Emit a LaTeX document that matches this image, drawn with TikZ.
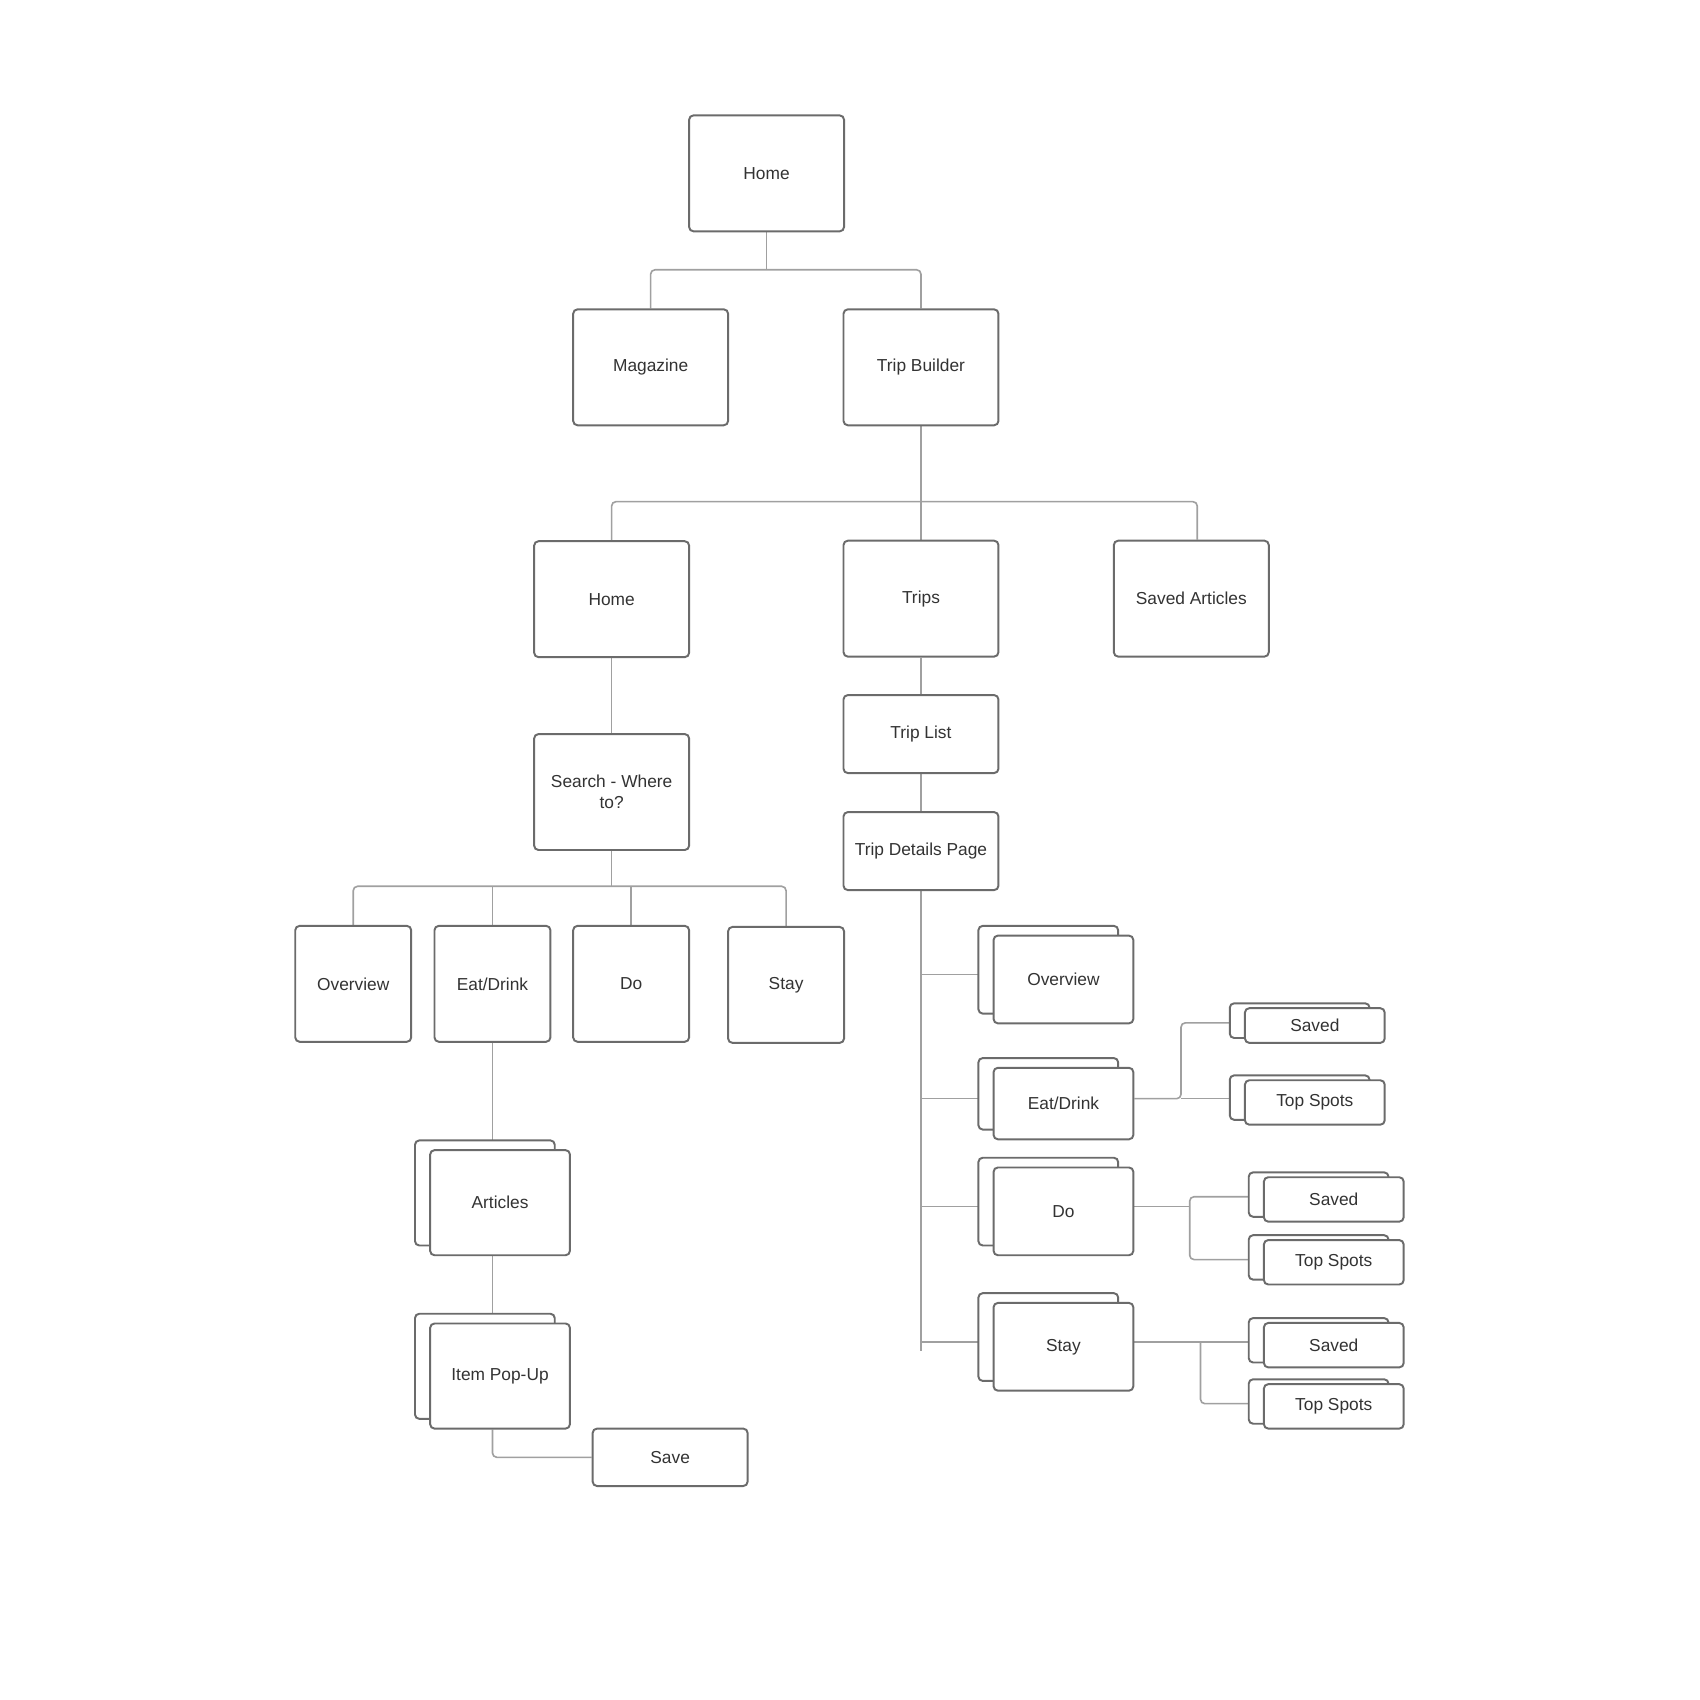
\documentclass[tikz,border=0pt]{standalone}
\usepackage{fontspec}
\setmainfont{Liberation Sans}
\usetikzlibrary{shadows}
\usetikzlibrary{backgrounds}
\usepackage{xcolor}
\definecolor{boxline}{HTML}{6B6B6B}
\definecolor{connline}{HTML}{A0A0A0}
\definecolor{labeltext}{HTML}{333333}

\begin{document}
\begin{tikzpicture}[
		x=1pt, y=-1pt,
		% Style definitions for sitemap boxes
		box/.style={draw=boxline, line width=1.8pt, rounded corners=4pt, fill=white, text=labeltext, font=\fontsize{16}{19}\selectfont, align=center, inner sep=0pt},
		page/.style={box, minimum width=143pt, minimum height=107pt},
		tab/.style={box, minimum width=107pt, minimum height=107pt},
		bar/.style={box, minimum width=143pt, minimum height=72pt},
		stack/.style={box, minimum width=129pt, copy shadow={shadow xshift=-14pt, shadow yshift=9pt, draw=boxline, fill=white}},
		substack/.style={box, minimum width=129pt, minimum height=41pt, copy shadow={shadow xshift=-14pt, shadow yshift=4.5pt, draw=boxline, fill=white}},
		conn/.style={draw=connline, line width=1.5pt, rounded corners=4pt},
		]
		\useasboundingbox (0,0) rectangle (1569,1569);

		% === Top levels ===
		\node[page] (home) at (707.5,160) {Home};
		\node[page] (mag) at (600.5,339) {Magazine};
		\node[page] (tb) at (850,339) {Trip Builder};

		% === Trip Builder sections ===
		\node[page] (thome) at (564.5,553) {Home};
		\node[page] (trips) at (850,552.5) {Trips};
		\node[page] (sart) at (1099.5,552.5) {Saved Articles};
		\node[bar] (tlist) at (850,677.5) {Trip List};
		\node[bar] (tdp) at (850,785.5) {Trip Details Page};

		% === Search branch ===
		\node[page] (search) at (564.5,731) {Search - Where\\to?};
		\node[tab] (sov) at (326,908) {Overview};
		\node[tab] (sed) at (454.5,908) {Eat/Drink};
		\node[tab] (sdo) at (582.5,908) {Do};
		\node[tab] (sstay) at (725.5,909) {Stay};
		\node[stack, minimum height=97pt] (art) at (461.5,1110) {Articles};
		\node[stack, minimum height=97pt] (pop) at (461.5,1270) {Item Pop-Up};
		\node[box, minimum width=143pt, minimum height=53pt] (save) at (618.5,1345) {Save};

		% === Trip details pages ===
		\node[stack, minimum height=81pt] (dov) at (981.5,904) {Overview};
		\node[stack, minimum height=66pt] (ded) at (981.5,1018.5) {Eat/Drink};
		\node[stack, minimum height=81pt] (ddo) at (981.5,1118) {Do};
		\node[stack, minimum height=81pt] (dstay) at (981.5,1243) {Stay};

		% === Saved / Top Spots ===
		\node[substack, minimum height=32pt] (edsv) at (1213.5,946.5) {Saved};
		\node[substack] (edtop) at (1213.5,1017.5) {Top Spots};
		\node[substack] (dosv) at (1231,1107) {Saved};
		\node[substack] (dotop) at (1231,1165) {Top Spots};
		\node[substack] (stsv) at (1231,1241.5) {Saved};
		\node[substack] (sttop) at (1231,1298) {Top Spots};

		% === Connectors (behind the boxes) ===
		\begin{scope}[on background layer]
			\coordinate (fhome) at (707.5,249);
			\draw[conn] (home) -- (fhome);
			\draw[conn] (mag.north) |- (fhome) -| (tb.north);

			\coordinate (ftb) at (850,463);
			\draw[conn] (tb) -- (trips);
			\draw[conn] (thome.north) |- (ftb) -| ([xshift=5.5pt]sart.north);
			\draw[conn] (thome) -- (search);
			\draw[conn] (trips) -- (tlist);
			\draw[conn] (tlist) -- (tdp);

			\coordinate (fsearch) at (564.5,818);
			\draw[conn] (search) -- (fsearch);
			\draw[conn] (sov.north) |- (fsearch) -| (sstay.north);
			\draw[conn] (sed.north) -- (sed.north |- fsearch);
			\draw[conn] (sdo.north) -- (sdo.north |- fsearch);
			\draw[conn] (sed.south) -- (sed.south |- art.north);
			\draw[conn] (sed.south |- art.south) -- (sed.south |- pop.north);
			\draw[conn] (sed.south |- pop.south) |- (save.west);

			\coordinate (ftdp) at (850,1247);
			\draw[conn] (tdp) -- (ftdp);
			\foreach \n in {dov,ded,ddo,dstay}
				\draw[conn] ([yshift=4.5pt]\n.west -| tdp) -- ([yshift=4.5pt]\n.west);

			\coordinate (fed) at (1090,1014);
			\draw[conn] ([yshift=4.5pt]ded.east) -- (fed) |- ([xshift=-14pt,yshift=2.5pt]edsv.west);
			\draw[conn] (fed) -- (fed -| edtop.west);

			\coordinate (fdo) at (1098,1113.5);
			\draw[conn] ([yshift=4.5pt]ddo.east) -- (fdo);
			\draw[conn] ([yshift=2.5pt]dosv.west) -| (fdo) |- ([yshift=2.5pt]dotop.west);

			\coordinate (fst) at (1108,1238.5);
			\draw[conn] ([yshift=4.5pt]dstay.east) -- ([yshift=4.5pt]dstay.east -| stsv.west);
			\draw[conn] (fst) |- ([yshift=2.5pt]sttop.west);
		\end{scope}

	\end{tikzpicture}
\end{document}
